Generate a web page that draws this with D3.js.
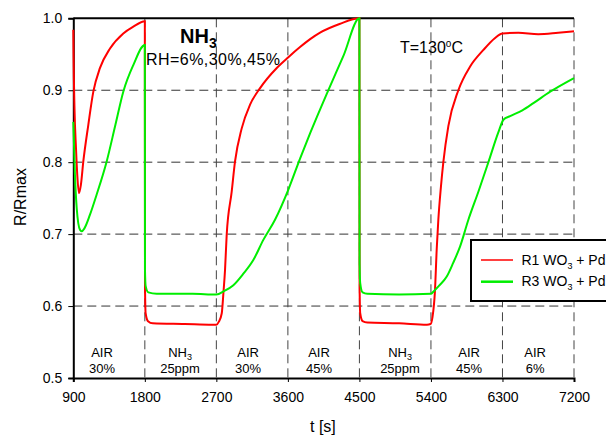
<!DOCTYPE html>
<html>
<head>
<meta charset="utf-8">
<script src="https://cdn.jsdelivr.net/npm/d3@7"></script>
<style>
  body { margin: 0; background: #fff; }
  svg { display: block; font-family: "Liberation Sans", Arial, sans-serif; }
</style>
</head>
<body>
<script>
// R1 WO3 + Pd (red)
const r1Time = [900, 903, 915, 934, 950, 972, 995, 1026, 1089, 1152, 1236, 1362, 1529, 1650, 1800,
  1802, 1810, 1840, 1900, 2300, 2650, 2700, 2730, 2768, 2790, 2809, 2830, 2893, 2935, 3019, 3124, 3250, 3460, 3606, 3753, 3880, 4005, 4250, 4500,
  4502, 4510, 4540, 4600, 5000, 5350, 5395, 5420, 5450, 5473, 5493, 5525, 5556, 5619, 5745, 5893, 6060, 6200, 6300, 6500, 6750, 7000, 7200];
const r1Value = [0.984, 0.95, 0.875, 0.819, 0.782, 0.757, 0.768, 0.801, 0.852, 0.898, 0.931, 0.958, 0.979, 0.988, 0.996,
  0.63, 0.59, 0.579, 0.576, 0.575, 0.574, 0.574, 0.578, 0.59, 0.62, 0.65, 0.699, 0.759, 0.801, 0.847, 0.880, 0.903, 0.931, 0.946, 0.960, 0.971, 0.980, 0.992, 1.0,
  0.63, 0.59, 0.579, 0.577, 0.576, 0.574, 0.575, 0.585, 0.62, 0.68, 0.72, 0.765, 0.80, 0.85, 0.90, 0.933, 0.956, 0.972, 0.979, 0.98, 0.978, 0.98, 0.982];

// R3 WO3 + Pd (green)
const r3Time = [900, 921, 943, 984, 1005, 1040, 1110, 1194, 1320, 1430, 1529, 1655, 1800,
  1802, 1810, 1844, 1950, 2400, 2700, 2800, 2914, 3040, 3165, 3291, 3438, 3606, 3753, 3879, 4089, 4300, 4500,
  4502, 4510, 4540, 4600, 5000, 5400, 5430, 5500, 5599, 5680, 5767, 5871, 6000, 6123, 6250, 6312, 6396, 6550, 6689, 6900, 7200];
const r3Value = [0.856, 0.782, 0.736, 0.706, 0.704, 0.708, 0.727, 0.755, 0.801, 0.852, 0.898, 0.935, 0.963,
  0.65, 0.628, 0.619, 0.617, 0.617, 0.616, 0.621, 0.629, 0.645, 0.664, 0.692, 0.72, 0.762, 0.805, 0.84, 0.895, 0.948, 1.0,
  0.66, 0.632, 0.619, 0.617, 0.616, 0.617, 0.620, 0.628, 0.641, 0.66, 0.683, 0.72, 0.76, 0.80, 0.842, 0.859, 0.864, 0.872, 0.882, 0.898, 0.917];

const xTicks = [900, 1800, 2700, 3600, 4500, 5400, 6300, 7200];
const yTicks = [0.5, 0.6, 0.7, 0.8, 0.9, 1.0];

// gas phase labels (centre time, first line, second line)
const phaseTime = [1261, 2243, 3099, 3992, 5011, 5880, 6711];
const phaseGas = ["AIR", "NH3", "AIR", "AIR", "NH3", "AIR", "AIR"];
const phaseSub = ["30%", "25ppm", "30%", "45%", "25ppm", "45%", "6%"];

const seriesNames = ["R1 WO", "R3 WO"];
const seriesColors = ["#ff0000", "#00ee00"];

const W = 606, H = 435;
const margin = { top: 18.3, right: 32, bottom: 57, left: 73.3 };

const svg = d3.select('body').append('svg')
  .attr('width', W)
  .attr('height', H);

const x = d3.scaleLinear().domain([900, 7200]).range([margin.left, W - margin.right]);
const y = d3.scaleLinear().domain([0.5, 1.0]).range([H - margin.bottom, margin.top]);

// grid
svg.append('g').selectAll('line')
  .data(yTicks.filter(v => v > 0.5 && v < 1.0))
  .enter().append('line')
  .attr('x1', x(900)).attr('x2', x(7200))
  .attr('y1', d => y(d)).attr('y2', d => y(d))
  .attr('stroke', '#333').attr('stroke-width', 1).attr('stroke-dasharray', '9,5');

svg.append('g').selectAll('line')
  .data(xTicks.slice(1))
  .enter().append('line')
  .attr('x1', d => x(d)).attr('x2', d => x(d))
  .attr('y1', y(1.0)).attr('y2', y(0.5))
  .attr('stroke', '#444').attr('stroke-width', 1).attr('stroke-dasharray', '9,5');

// top border
svg.append('line')
  .attr('x1', x(900)).attr('x2', x(7200))
  .attr('y1', y(1.0)).attr('y2', y(1.0))
  .attr('stroke', '#000').attr('stroke-width', 2);

// axes
const xAxis = svg.append('g')
  .attr('transform', `translate(0,${y(0.5)})`)
  .call(d3.axisBottom(x).tickValues(xTicks).tickSize(4).tickPadding(10).tickFormat(d3.format('d')));
const yAxis = svg.append('g')
  .attr('transform', `translate(${x(900)},0)`)
  .call(d3.axisLeft(y).tickValues(yTicks).tickSize(5).tickPadding(6).tickFormat(d3.format('.1f')));

[xAxis, yAxis].forEach(a => {
  a.select('.domain').attr('stroke', '#000').attr('stroke-width', 2);
  a.selectAll('.tick line').attr('stroke', '#000').attr('stroke-width', 1);
  a.selectAll('.tick text').attr('fill', '#000').style('font-size', '14px')
    .style('font-family', '"Liberation Sans", Arial, sans-serif');
});

// curves
const line = d3.line()
  .x(d => x(d[0]))
  .y(d => y(d[1]))
  .curve(d3.curveMonotoneX);

const seriesData = [
  d3.zip(r1Time, r1Value),
  d3.zip(r3Time, r3Value)
];

svg.append('g').selectAll('path')
  .data([0, 1])
  .enter().append('path')
  .attr('d', i => line(seriesData[i]))
  .attr('fill', 'none')
  .attr('stroke', i => seriesColors[i])
  .attr('stroke-width', 2);

// phase labels
const phases = svg.append('g').style('font-size', '13px').attr('text-anchor', 'middle');
phaseTime.forEach((t, i) => {
  const g1 = phases.append('text').attr('x', x(t)).attr('y', 357);
  if (phaseGas[i] === 'NH3') {
    g1.append('tspan').text('NH');
    g1.append('tspan').attr('dy', 3).style('font-size', '9px').text('3');
  } else {
    g1.text(phaseGas[i]);
  }
  phases.append('text').attr('x', x(t)).attr('y', 373).text(phaseSub[i]);
});

// annotations
const title = svg.append('text').attr('x', 180).attr('y', 43)
  .style('font-size', '20px').style('font-weight', 'bold');
title.append('tspan').text('NH');
title.append('tspan').attr('dy', 5).style('font-size', '14px').text('3');

svg.append('text').attr('x', 146).attr('y', 65)
  .style('font-size', '16px')
  .attr('textLength', 134)
  .text('RH=6%,30%,45%');

const temp = svg.append('text').attr('x', 400).attr('y', 53).style('font-size', '16px');
temp.append('tspan').text('T=130');
temp.append('tspan').attr('dy', -6).style('font-size', '10px').text('o');
temp.append('tspan').attr('dy', 6).text('C');

// axis titles
svg.append('text')
  .attr('transform', 'translate(26,197) rotate(-90)')
  .attr('text-anchor', 'middle')
  .style('font-size', '16px')
  .text('R/Rmax');

svg.append('text').attr('x', 310).attr('y', 432)
  .style('font-size', '16px')
  .text('t [s]');

// legend
const legend = svg.append('g');
legend.append('rect')
  .attr('x', 471).attr('y', 240)
  .attr('width', 200).attr('height', 61)
  .attr('fill', '#fff').attr('stroke', '#000').attr('stroke-width', 2);

seriesNames.forEach((name, i) => {
  const ly = 260 + i * 21.7;
  legend.append('line')
    .attr('x1', 481).attr('x2', 513)
    .attr('y1', ly).attr('y2', ly)
    .attr('stroke', seriesColors[i]).attr('stroke-width', i === 0 ? 1.5 : 2.5);
  const t = legend.append('text').attr('x', 521.5).attr('y', ly + 4.5).style('font-size', '14px');
  t.append('tspan').text(name);
  t.append('tspan').attr('dy', 4).style('font-size', '9px').text('3');
  t.append('tspan').attr('dy', -4).text(' + Pd');
});
</script>
</body>
</html>
